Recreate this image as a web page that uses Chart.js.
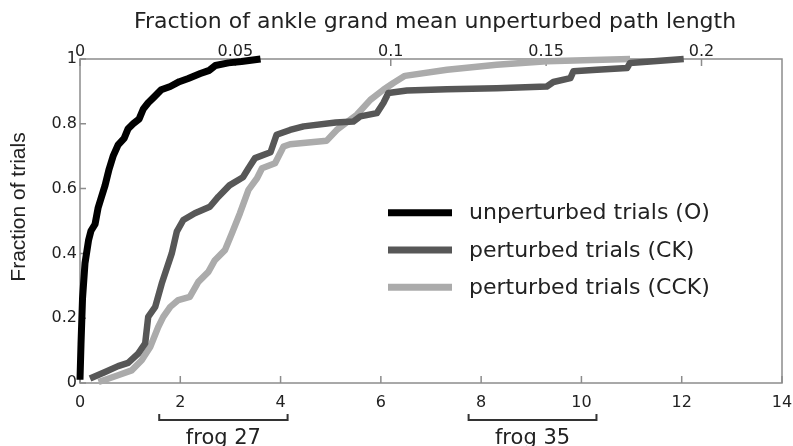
<!DOCTYPE html>
<html>
<head>
<meta charset="utf-8">
<script src="https://cdn.jsdelivr.net/npm/chart.js@4/dist/chart.umd.min.js"></script>
<style>
html,body{margin:0;padding:0;background:#fff;}
#wrap{position:relative;width:793px;height:446px;}
</style>
</head>
<body>
<div id="wrap"><canvas id="c"></canvas></div>
<script>
// ---- data ----
const seriesLabels = ['unperturbed trials (O)', 'perturbed trials (CK)', 'perturbed trials (CCK)'];
const seriesColors = ['#000000', '#575757', '#ababab'];

const oX = [0.0, 0.02, 0.05, 0.10, 0.17, 0.22, 0.30, 0.36, 0.42, 0.50, 0.58, 0.66, 0.76, 0.88, 0.96, 1.06, 1.18, 1.26, 1.36, 1.46, 1.62, 1.80, 1.98, 2.16, 2.40, 2.58, 2.70, 2.96, 3.22, 3.60];
const oY = [0.01, 0.12, 0.26, 0.37, 0.44, 0.47, 0.49, 0.54, 0.57, 0.61, 0.66, 0.70, 0.735, 0.755, 0.785, 0.80, 0.815, 0.845, 0.865, 0.88, 0.905, 0.915, 0.93, 0.94, 0.955, 0.965, 0.98, 0.988, 0.992, 1.0];

const ckX = [0.2, 0.5, 0.76, 0.96, 1.16, 1.30, 1.36, 1.50, 1.63, 1.83, 1.93, 2.06, 2.29, 2.59, 2.76, 2.98, 3.25, 3.36, 3.49, 3.80, 3.92, 4.19, 4.46, 5.10, 5.45, 5.59, 5.92, 6.05, 6.15, 6.52, 7.32, 8.31, 9.31, 9.44, 9.78, 9.84, 10.31, 10.91, 10.97, 12.04];
const ckY = [0.014, 0.034, 0.052, 0.062, 0.091, 0.122, 0.204, 0.235, 0.307, 0.40, 0.467, 0.503, 0.524, 0.544, 0.575, 0.61, 0.635, 0.663, 0.694, 0.712, 0.766, 0.781, 0.792, 0.804, 0.807, 0.823, 0.833, 0.864, 0.895, 0.903, 0.907, 0.91, 0.915, 0.929, 0.941, 0.962, 0.967, 0.972, 0.988, 1.0];

const cckX = [0.37, 0.76, 1.03, 1.23, 1.40, 1.56, 1.66, 1.80, 1.96, 2.19, 2.36, 2.56, 2.69, 2.89, 3.03, 3.19, 3.36, 3.53, 3.63, 3.89, 4.06, 4.19, 4.92, 5.12, 5.52, 5.79, 6.05, 6.25, 6.48, 7.32, 8.31, 9.31, 10.97];
const cckY = [0.003, 0.024, 0.039, 0.07, 0.111, 0.173, 0.204, 0.235, 0.256, 0.266, 0.312, 0.343, 0.379, 0.41, 0.462, 0.524, 0.596, 0.632, 0.663, 0.678, 0.73, 0.737, 0.748, 0.781, 0.828, 0.874, 0.905, 0.926, 0.948, 0.967, 0.982, 0.993, 1.0];

const bottomTicks = [0, 2, 4, 6, 8, 10, 12, 14];
const topTicks = [0, 0.05, 0.1, 0.15, 0.2];
const leftTicks = [0, 0.2, 0.4, 0.6, 0.8, 1];
const topMax = 0.2259;

const topTitle = 'Fraction of ankle grand mean unperturbed path length';
const leftTitle = 'Fraction of trials';

const bracketLabels = ['frog 27', 'frog 35'];
const bracketStart = [1.58, 7.75];
const bracketEnd = [4.14, 10.30];

// ---- build ----
const toPts = (xs, ys) => xs.map((x, i) => ({x: x, y: ys[i]}));
const seriesData = [toPts(oX, oY), toPts(ckX, ckY), toPts(cckX, cckY)];

const FRAME = '#8c8c8c';
const TXT = '#222222';
const tickFont = {family: 'DejaVu Sans', size: 16};

const decor = {
  id: 'decor',
  beforeDatasetsDraw(chart) {
    const ctx = chart.ctx, a = chart.chartArea;
    const sx = chart.scales.x, sx2 = chart.scales.x2, sy = chart.scales.y;
    ctx.save();
    ctx.strokeStyle = FRAME;
    ctx.lineWidth = 1.5;
    ctx.strokeRect(a.left, a.top, a.right - a.left, a.bottom - a.top);
    ctx.beginPath();
    bottomTicks.forEach(v => { const p = sx.getPixelForValue(v); ctx.moveTo(p, a.bottom); ctx.lineTo(p, a.bottom - 7); });
    topTicks.forEach(v => { const p = sx2.getPixelForValue(v); ctx.moveTo(p, a.top); ctx.lineTo(p, a.top + 7); });
    leftTicks.forEach(v => { const p = sy.getPixelForValue(v); ctx.moveTo(a.left, p); ctx.lineTo(a.left + 6, p); });
    ctx.stroke();
    ctx.restore();
  },
  afterDraw(chart) {
    const ctx = chart.ctx;
    const sx = chart.scales.x;
    ctx.save();
    // titles
    ctx.fillStyle = TXT;
    ctx.font = '22px "DejaVu Sans"';
    ctx.textAlign = 'center';
    ctx.textBaseline = 'alphabetic';
    ctx.fillText(topTitle, 435, 28);
    ctx.save();
    ctx.translate(25, 207);
    ctx.rotate(-Math.PI / 2);
    ctx.font = '21px "Liberation Sans"';
    ctx.fillText(leftTitle, 0, 0);
    ctx.restore();
    // legend
    chart.data.datasets.forEach((ds, i) => {
      const y = 212.7 + i * 37.3;
      ctx.strokeStyle = ds.borderColor;
      ctx.lineWidth = 7;
      ctx.lineCap = 'butt';
      ctx.beginPath();
      ctx.moveTo(388, y); ctx.lineTo(452, y);
      ctx.stroke();
      ctx.fillStyle = TXT;
      ctx.font = '22px "DejaVu Sans"';
      ctx.textAlign = 'left';
      ctx.textBaseline = 'middle';
      ctx.fillText(ds.label, 469, y + 1);
    });
    // brackets
    ctx.strokeStyle = '#333';
    ctx.lineWidth = 2;
    bracketLabels.forEach((lab, i) => {
      const p0 = sx.getPixelForValue(bracketStart[i]);
      const p1 = sx.getPixelForValue(bracketEnd[i]);
      ctx.beginPath();
      ctx.moveTo(p0, 414); ctx.lineTo(p0, 420); ctx.lineTo(p1, 420); ctx.lineTo(p1, 414);
      ctx.stroke();
      ctx.fillStyle = TXT;
      ctx.font = '21px "DejaVu Sans"';
      ctx.textAlign = 'center';
      ctx.textBaseline = 'alphabetic';
      ctx.fillText(lab, (p0 + p1) / 2, 444);
    });
    ctx.restore();
  }
};

const fitH = h => s => { s.height = h; s.paddingLeft = 0; s.paddingRight = 0; };

new Chart(document.getElementById('c'), {
  type: 'line',
  data: {
    datasets: seriesLabels.map((lab, i) => ({
      label: lab,
      data: seriesData[i],
      borderColor: seriesColors[i],
      backgroundColor: seriesColors[i],
      borderWidth: i === 0 ? 7 : 6.5,
      pointRadius: 0,
      tension: 0,
      fill: false,
      clip: 8,
      borderJoinStyle: 'round',
      xAxisID: 'x',
      yAxisID: 'y'
    }))
  },
  options: {
    responsive: true,
    maintainAspectRatio: false,
    animation: false,
    events: [],
    layout: {padding: {left: 0, right: 11, top: 0, bottom: 0}},
    plugins: {legend: {display: false}, tooltip: {enabled: false}, title: {display: false}},
    scales: {
      x: {
        type: 'linear', position: 'bottom', min: 0, max: 14,
        afterBuildTicks: s => { s.ticks = bottomTicks.map(v => ({value: v})); },
        afterFit: fitH(63),
        grid: {display: false, drawTicks: false},
        border: {display: false},
        ticks: {font: tickFont, color: TXT, padding: 10, maxRotation: 0, callback: v => String(v)}
      },
      x2: {
        type: 'linear', position: 'top', min: 0, max: topMax,
        afterBuildTicks: s => { s.ticks = topTicks.map(v => ({value: v})); },
        afterFit: fitH(59),
        grid: {display: false, drawTicks: false},
        border: {display: false},
        ticks: {font: tickFont, color: TXT, padding: -2, maxRotation: 0, callback: v => String(v)}
      },
      y: {
        type: 'linear', position: 'left', min: 0, max: 1,
        afterBuildTicks: s => { s.ticks = leftTicks.map(v => ({value: v})); },
        afterFit: s => { s.width = 80; s.paddingTop = 0; s.paddingBottom = 0; },
        grid: {display: false, drawTicks: false},
        border: {display: false},
        ticks: {font: tickFont, color: TXT, padding: 3, callback: v => String(v)}
      }
    }
  },
  plugins: [decor]
});
</script>
</body>
</html>
